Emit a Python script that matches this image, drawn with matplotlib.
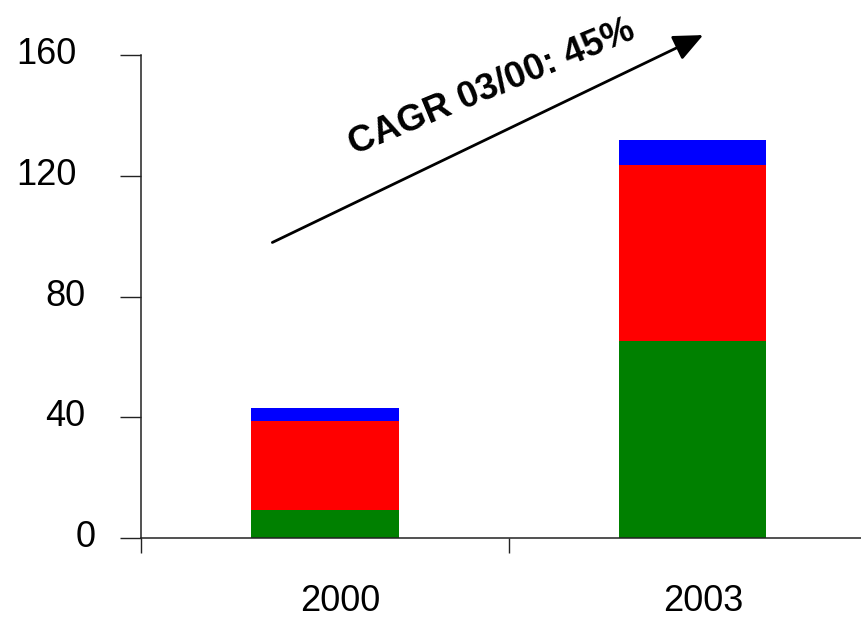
import matplotlib
matplotlib.use('Agg')
import matplotlib.pyplot as plt
from matplotlib.transforms import ScaledTranslation

# Stacked values per year
years = ['2000', '2003']
green_vals = [9.4, 65.3]
red_vals = [29.3, 58.1]
blue_vals = [4.4, 8.6]
y_ticks = [0, 40, 80, 120, 160]
cagr_label = 'CAGR 03/00: 45%'

plt.rcParams['font.family'] = ['Liberation Sans', 'DejaVu Sans']

fig = plt.figure(figsize=(8.61, 6.19), dpi=100)
ax = fig.add_axes([141 / 861, 81 / 619, 720 / 861, 483 / 619])

x = list(range(len(years)))
width = 0.4
ax.bar(x, green_vals, width, color='#008000', linewidth=0)
ax.bar(x, red_vals, width, bottom=green_vals, color='#ff0000', linewidth=0)
top_base = [g + r for g, r in zip(green_vals, red_vals)]
ax.bar(x, blue_vals, width, bottom=top_base, color='#0000ff', linewidth=0)

for side in ('top', 'right'):
    ax.spines[side].set_visible(False)
for side in ('left', 'bottom'):
    ax.spines[side].set_linewidth(1.1)
    ax.spines[side].set_color('#222222')

# Category separators as major ticks, year names on minor ticks
ax.set_xticks([-0.5, 0.5, 1.5])
ax.set_xticklabels([])
ax.set_xticks(x, minor=True)
ax.set_xticklabels(years, minor=True)
ax.tick_params(axis='x', which='major', direction='out', length=10.8, width=1.0, color='#222222')
ax.tick_params(axis='x', which='minor', length=0, pad=33, labelsize=26)

ax.set_yticks(y_ticks)
ax.set_yticklabels([str(v) for v in y_ticks])
ax.tick_params(axis='y', direction='out', length=15, width=1.0, color='#222222',
               pad=31.7, labelsize=26)

ax.set_xlim(-0.5, 1.457)
ax.set_ylim(0, 160)

# Nudge labels
for lbl, dx in zip(ax.get_xticklabels(minor=True), [15, 10]):
    lbl.set_transform(lbl.get_transform() + ScaledTranslation(dx / 100, 0, fig.dpi_scale_trans))
for lbl, v in zip(ax.get_yticklabels(), y_ticks):
    n = len(str(v))
    dx = 9.5 * (3 - n)
    lbl.set_transform(lbl.get_transform() + ScaledTranslation(dx / 100, 4.5 / 100, fig.dpi_scale_trans))

# Growth arrow with CAGR label
ax.annotate('', xy=(1.028, 166.6), xytext=(-0.143, 97.9),
            arrowprops=dict(arrowstyle='-|>,head_length=0.9,head_width=0.4',
                            lw=2.0, color='black', mutation_scale=20,
                            shrinkA=0, shrinkB=0),
            annotation_clip=False)
ax.text(0.454, 149.5, cagr_label, rotation=22.5, rotation_mode='anchor',
        ha='center', va='center', fontsize=26.5, fontweight='bold', clip_on=False)

fig.savefig('out.png', dpi=100)
